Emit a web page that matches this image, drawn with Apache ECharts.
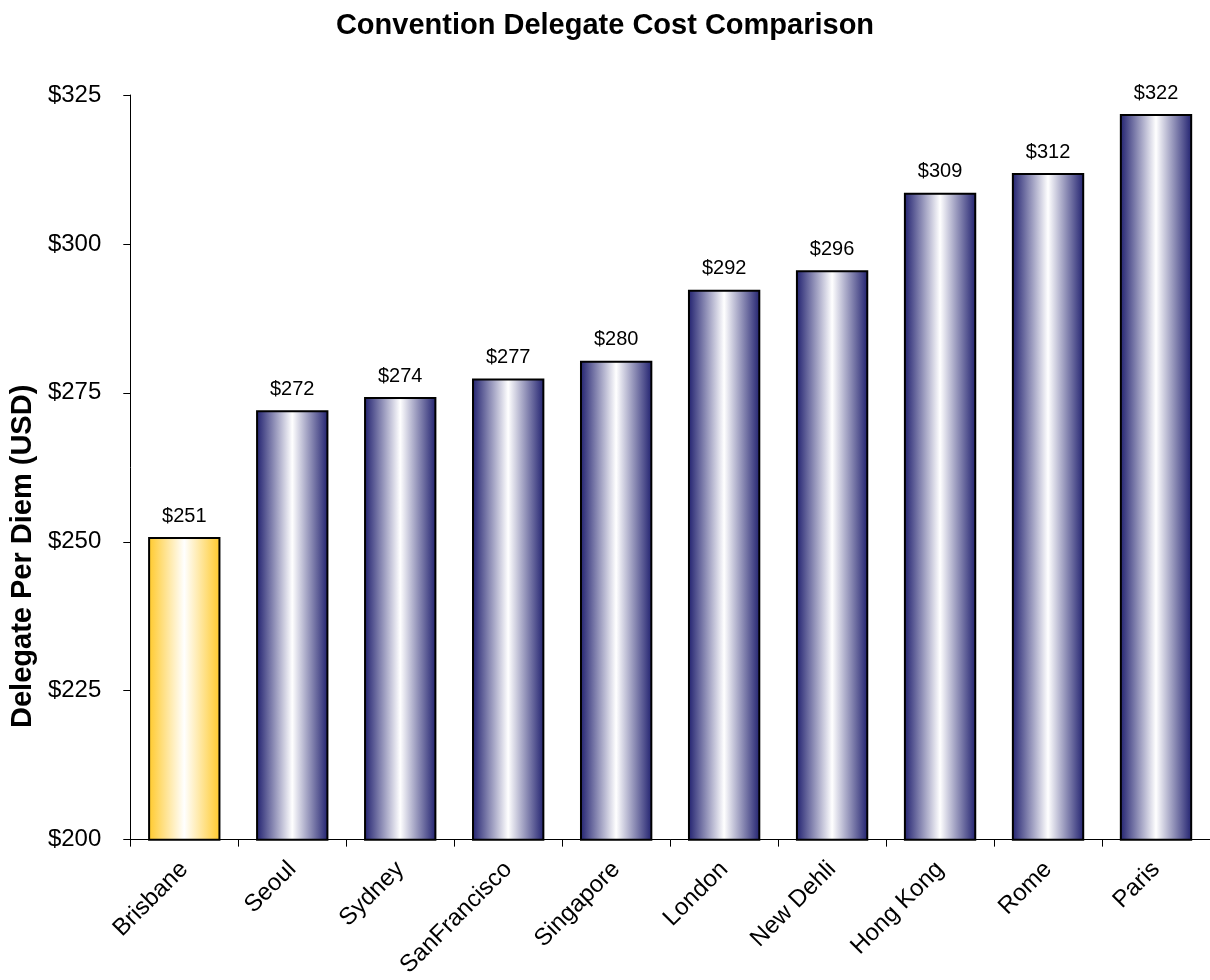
<!DOCTYPE html>
<html><head><meta charset="utf-8">
<script src="https://cdn.jsdelivr.net/npm/echarts@6/dist/echarts.min.js"></script>
<style>html,body{margin:0;padding:0;background:#fff}#c{width:1210px;height:980px}</style>
</head><body><div id="c"></div>
<script>
const categories = ["Brisbane","Seoul","Sydney","SanFrancisco","Singapore","London","New Dehli","Hong Kong","Rome","Paris"];
const values = [250.8, 272.1, 274.3, 277.4, 280.4, 292.3, 295.6, 308.6, 311.9, 321.8];
const highlightCity = "Brisbane";

function grad(edge){
  return new echarts.graphic.LinearGradient(0,0,1,0,[
    {offset:0,color:edge},{offset:0.5,color:'#ffffff'},{offset:1,color:edge}]);
}
const chart = echarts.init(document.getElementById('c'));
chart.setOption({
  animation:false,
  title:{text:'Convention Delegate Cost Comparison',left:'center',top:6,
    textStyle:{fontFamily:'Liberation Sans, Arial',fontWeight:'bold',fontSize:29,color:'#000'}},
  grid:{left:127,right:0,top:95,bottom:139,containLabel:false},
  xAxis:{type:'category',data:categories,
    axisLine:{lineStyle:{color:'#000',width:1}},
    axisTick:{show:true,alignWithLabel:false,length:7,lineStyle:{color:'#000'}},
    axisLabel:{rotate:45,fontFamily:'Liberation Sans, Arial',fontSize:24,color:'#000',margin:26}},
  yAxis:{type:'value',min:200,max:325,interval:25,
    name:'Delegate Per Diem (USD)',nameLocation:'middle',nameGap:90,
    nameTextStyle:{fontFamily:'Liberation Sans, Arial',fontWeight:'bold',fontSize:29,color:'#000',padding:[0,178,0,0]},
    axisLine:{show:true,lineStyle:{color:'#000'}},
    axisTick:{show:true,length:7,lineStyle:{color:'#000'}},
    splitLine:{show:false},
    axisLabel:{formatter:v=>'$'+v,fontFamily:'Liberation Sans, Arial',fontSize:24,color:'#000',margin:29}},
  series:[{type:'bar',barWidth:'67%',
    data:values.map((v,i)=>({value:v,itemStyle:{color:grad(categories[i]===highlightCity?'#ffc929':'#1f1f6e')}})),
    itemStyle:{borderColor:'#000',borderWidth:2},
    label:{show:true,position:'top',distance:11,formatter:p=>'$'+Math.round(p.value),
      fontFamily:'Liberation Sans, Arial',fontSize:20,color:'#000'}}]
});
</script></body></html>
